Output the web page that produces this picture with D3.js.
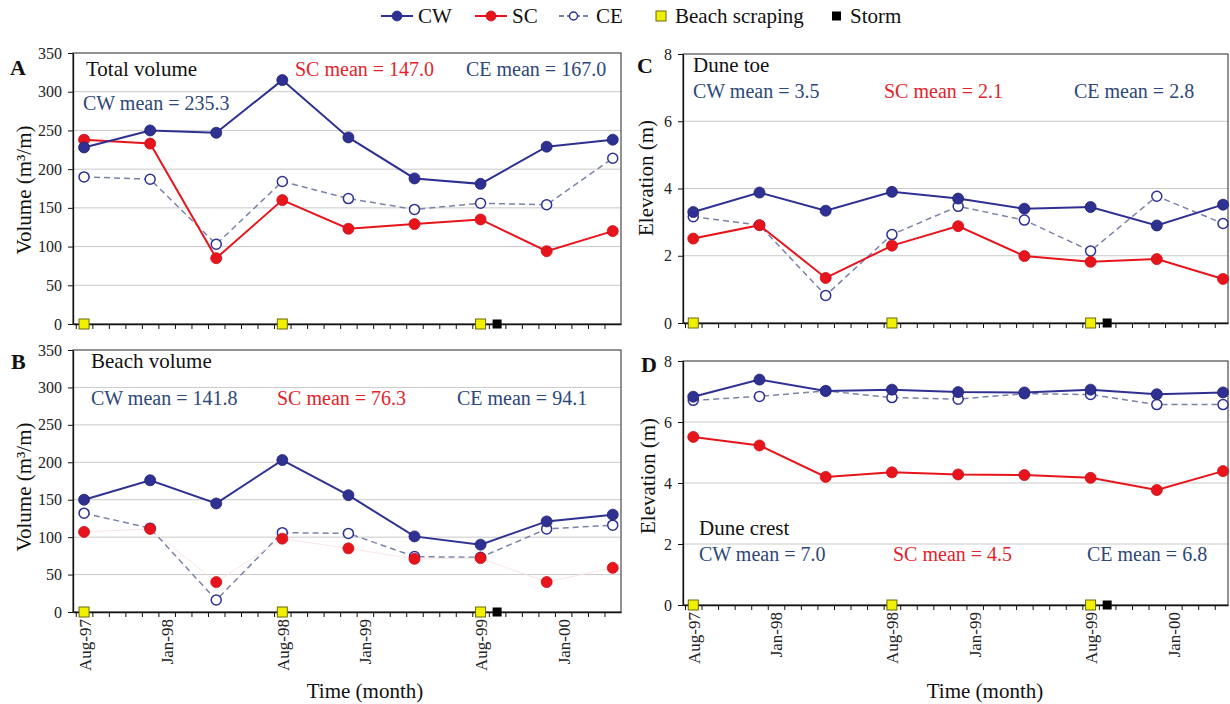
<!DOCTYPE html>
<html>
<head>
<meta charset="utf-8">
<script src="https://cdn.jsdelivr.net/npm/d3@7"></script>
<style>
  body { margin: 0; background: #fff; }
  svg { display: block; }
  svg text { font-family: 'Liberation Serif', 'Times New Roman', serif; }
</style>
</head>
<body>
<script>
// survey dates (every 4 months)
const surveyDates = ['Aug-97','Dec-97','Apr-98','Aug-98','Dec-98','Apr-99','Aug-99','Dec-99','Apr-00'];
const tickLabels = ['Aug-97','Jan-98','Aug-98','Jan-99','Aug-99','Jan-00'];
const scrapingDates = ['Aug-97','Aug-98','Aug-99'];
const stormDates = ['Sep-99'];

// A: total volume (m3/m)
const totalCW = [228,250,247,315,241,188,181,229,238];
const totalSC = [238,233,85,160,123,129,135,94,120];
const totalCE = [190,187,103,184,162,148,156,154,214];
const totalMeans = ['CW mean = 235.3','SC mean = 147.0','CE mean = 167.0'];

// B: beach volume (m3/m)
const beachCW = [150,176,145,203,156,101,90,121,130];
const beachSC = [107,111,40,98,85,71,72,40,59];
const beachCE = [132,112,16,106,105,74,73,111,116];
const beachMeans = ['CW mean = 141.8','SC mean = 76.3','CE mean = 94.1'];

// C: dune toe elevation (m)
const toeCW = [3.30,3.88,3.34,3.90,3.70,3.40,3.45,2.90,3.52];
const toeSC = [2.51,2.91,1.34,2.30,2.88,1.99,1.82,1.90,1.31];
const toeCE = [3.16,2.91,0.82,2.63,3.47,3.06,2.14,3.77,2.96];
const toeMeans = ['CW mean = 3.5','SC mean = 2.1','CE mean = 2.8'];

// D: dune crest elevation (m)
const crestCW = [6.83,7.39,7.02,7.06,6.98,6.97,7.06,6.91,6.97];
const crestSC = [5.51,5.23,4.20,4.35,4.28,4.26,4.17,3.77,4.39];
const crestCE = [6.71,6.84,7.02,6.80,6.75,6.93,6.90,6.57,6.57];
const crestMeans = ['CW mean = 7.0','SC mean = 4.5','CE mean = 6.8'];

const volTicks = [0,50,100,150,200,250,300,350];
const elevTicks = [0,2,4,6,8];

const navy = '#2e3192', red = '#e8141c', meanBlue = '#2d4778', meanRed = '#e3232b';

// month index from 'Aug-97'
const parse = d3.timeParse('%b-%y');
const start = parse(surveyDates[0]);
const mIdx = s => d3.timeMonth.count(start, parse(s));

const svg = d3.select('body').append('svg').attr('width', 1230).attr('height', 704);

// panel layouts
const panels = [
  {letter:'A', letterPos:[10,75], title:'Total volume', titlePos:[86,76],
   cw:totalCW, sc:totalSC, ce:totalCE, means:totalMeans, meanPos:[[83,110],[295,76],[466,76]],
   ticks:volTicks, box:{l:73,t:53,r:621,b:324}, xDom:[-0.67,32.5],
   yTitle:'Volume (m³/m)', yTitlePos:[31,190], faintSC:false, xLabels:false},
  {letter:'B', letterPos:[11,369], title:'Beach volume', titlePos:[91,368],
   cw:beachCW, sc:beachSC, ce:beachCE, means:beachMeans, meanPos:[[91,405],[277,405],[457,405]],
   ticks:volTicks, box:{l:73,t:350,r:621,b:612}, xDom:[-0.67,32.5],
   yTitle:'Volume (m³/m)', yTitlePos:[31,487], faintSC:true, xLabels:true},
  {letter:'C', letterPos:[637,73], title:'Dune toe', titlePos:[693,72],
   cw:toeCW, sc:toeSC, ce:toeCE, means:toeMeans, meanPos:[[693,98],[884,98],[1074,98]],
   ticks:elevTicks, box:{l:683,t:54,r:1228,b:323}, xDom:[-0.62,32.3],
   yTitle:'Elevation (m)', yTitlePos:[653,178], faintSC:false, xLabels:false},
  {letter:'D', letterPos:[641,372], title:'Dune crest', titlePos:[699,535],
   cw:crestCW, sc:crestSC, ce:crestCE, means:crestMeans, meanPos:[[699,561],[893,561],[1087,561]],
   ticks:elevTicks, box:{l:683,t:361,r:1228,b:605}, xDom:[-0.62,32.3],
   yTitle:'Elevation (m)', yTitlePos:[655,476], faintSC:false, xLabels:true}
];

panels.forEach(p => {
  const b = p.box;
  const x = d3.scaleLinear().domain(p.xDom).range([b.l, b.r]);
  const y = d3.scaleLinear().domain([0, d3.max(p.ticks)]).range([b.b, b.t]);
  const g = svg.append('g');

  // grid
  g.selectAll('.grid').data(p.ticks.slice(1, -1)).enter().append('line')
    .attr('x1', b.l).attr('x2', b.r).attr('y1', d => y(d)).attr('y2', d => y(d))
    .attr('stroke', '#c9c9c9').attr('stroke-width', 1);

  // frame
  g.append('rect').attr('x', b.l).attr('y', b.t).attr('width', b.r - b.l).attr('height', b.b - b.t)
    .attr('fill', 'none').attr('stroke', '#4a4a4a').attr('stroke-width', 1.2);

  // y axis
  const yAxis = d3.axisLeft(y).tickValues(p.ticks).tickSize(5).tickSizeOuter(0).tickPadding(6);
  const yG = g.append('g').attr('transform', `translate(${b.l},0)`).call(yAxis)
    .attr('font-family', null).attr('font-size', null);
  yG.selectAll('text').attr('font-size', 16).attr('fill', '#222');
  yG.select('.domain').attr('stroke', '#111').attr('stroke-width', 1.3);
  yG.selectAll('.tick line').attr('stroke', '#111');

  // x axis: minor month ticks
  const minor = d3.range(-0.5, p.xDom[1], 1);
  const xAxis = d3.axisBottom(x).tickValues(minor).tickSize(5).tickSizeOuter(0).tickFormat('');
  const xG = g.append('g').attr('transform', `translate(0,${b.b})`).call(xAxis);
  xG.select('.domain').attr('stroke', '#111').attr('stroke-width', 1.3);
  xG.selectAll('.tick line').attr('stroke', '#111');

  // x labels, rotated (bottom panels only)
  if (p.xLabels) {
    const xLab = d3.axisBottom(x).tickValues(tickLabels.map(mIdx)).tickSize(0)
      .tickFormat((d, i) => tickLabels[i]);
    const xlG = g.append('g').attr('transform', `translate(0,${b.b})`).call(xLab)
      .attr('font-family', null).attr('font-size', null);
    xlG.select('.domain').remove();
    xlG.selectAll('text').attr('font-size', 17).attr('fill', '#222')
      .attr('transform', 'rotate(-90)').attr('text-anchor', 'end')
      .attr('x', -7).attr('y', 0).attr('dy', '0.35em');
  }

  const pts = arr => arr.map((v, i) => ({m: mIdx(surveyDates[i]), v}));
  const line = d3.line().x(d => x(d.m)).y(d => y(d.v));

  // CE dashed
  g.append('path').datum(pts(p.ce)).attr('d', line).attr('fill', 'none')
    .attr('stroke', '#7b82a6').attr('stroke-width', 1.5).attr('stroke-dasharray', '6,4');
  // SC
  g.append('path').datum(pts(p.sc)).attr('d', line).attr('fill', 'none')
    .attr('stroke', p.faintSC ? '#fae6e6' : red).attr('stroke-width', p.faintSC ? 1 : 2);
  // CW
  g.append('path').datum(pts(p.cw)).attr('d', line).attr('fill', 'none')
    .attr('stroke', navy).attr('stroke-width', 2);

  g.selectAll('.ce').data(pts(p.ce)).enter().append('circle')
    .attr('cx', d => x(d.m)).attr('cy', d => y(d.v)).attr('r', 5)
    .attr('fill', '#fff').attr('stroke', navy).attr('stroke-width', 1.5);
  g.selectAll('.sc').data(pts(p.sc)).enter().append('circle')
    .attr('cx', d => x(d.m)).attr('cy', d => y(d.v)).attr('r', 5.5)
    .attr('fill', red).attr('stroke', '#c8101a').attr('stroke-width', 0.8);
  g.selectAll('.cw').data(pts(p.cw)).enter().append('circle')
    .attr('cx', d => x(d.m)).attr('cy', d => y(d.v)).attr('r', 5.5)
    .attr('fill', navy).attr('stroke', '#1f2170').attr('stroke-width', 0.8);

  // events on the axis
  g.selectAll('.scrape').data(scrapingDates).enter().append('rect')
    .attr('x', d => x(mIdx(d)) - 5).attr('y', y(0) - 5).attr('width', 10).attr('height', 10)
    .attr('fill', '#f0f000').attr('stroke', '#6b6b10').attr('stroke-width', 1);
  g.selectAll('.storm').data(stormDates).enter().append('rect')
    .attr('x', d => x(mIdx(d)) - 4.5).attr('y', y(0) - 4.5).attr('width', 9).attr('height', 9)
    .attr('fill', '#000');

  // texts
  g.append('text').text(p.letter).attr('x', p.letterPos[0]).attr('y', p.letterPos[1])
    .attr('font-size', 22).attr('font-weight', 'bold').attr('fill', '#111');
  g.append('text').text(p.title).attr('x', p.titlePos[0]).attr('y', p.titlePos[1])
    .attr('font-size', 21).attr('fill', '#111');
  const meanColors = [meanBlue, meanRed, meanBlue];
  p.means.forEach((t, i) => {
    g.append('text').text(t).attr('x', p.meanPos[i][0]).attr('y', p.meanPos[i][1])
      .attr('font-size', 20).attr('fill', meanColors[i]);
  });
  g.append('text').text(p.yTitle)
    .attr('transform', `translate(${p.yTitlePos[0]},${p.yTitlePos[1]}) rotate(-90)`)
    .attr('text-anchor', 'middle').attr('font-size', 21).attr('fill', '#111');
});

// x titles
[365, 985].forEach(cx => {
  svg.append('text').text('Time (month)').attr('x', cx).attr('y', 698)
    .attr('text-anchor', 'middle').attr('font-size', 21).attr('fill', '#111');
});

// legend
const lg = svg.append('g');
const ly = 16;
const legLines = [
  {x1:381, x2:413, color:navy, dash:null, label:'CW', tx:418, fill:navy},
  {x1:475, x2:507, color:red, dash:null, label:'SC', tx:512, fill:red},
  {x1:559, x2:588, color:'#7b82a6', dash:'5,3', label:'CE', tx:596, fill:'#fff'}
];
legLines.forEach(d => {
  lg.append('line').attr('x1', d.x1).attr('x2', d.x2).attr('y1', ly).attr('y2', ly)
    .attr('stroke', d.color).attr('stroke-width', 2).attr('stroke-dasharray', d.dash);
  lg.append('circle').attr('cx', (d.x1 + d.x2) / 2).attr('cy', ly).attr('r', d.fill === '#fff' ? 4 : 5)
    .attr('fill', d.fill).attr('stroke', navy === d.color || d.fill === '#fff' ? navy : '#c8101a').attr('stroke-width', d.fill === '#fff' ? 1.5 : 0.8);
  lg.append('text').text(d.label).attr('x', d.tx).attr('y', ly + 7).attr('font-size', 21).attr('fill', '#111');
});
lg.append('rect').attr('x', 656).attr('y', ly - 5).attr('width', 10).attr('height', 10)
  .attr('fill', '#f0f000').attr('stroke', '#6b6b10');
lg.append('text').text('Beach scraping').attr('x', 675).attr('y', ly + 7).attr('font-size', 21).attr('fill', '#111');
lg.append('rect').attr('x', 832).attr('y', ly - 4.5).attr('width', 9).attr('height', 9).attr('fill', '#000');
lg.append('text').text('Storm').attr('x', 850).attr('y', ly + 7).attr('font-size', 21).attr('fill', '#111');
</script>
</body>
</html>
